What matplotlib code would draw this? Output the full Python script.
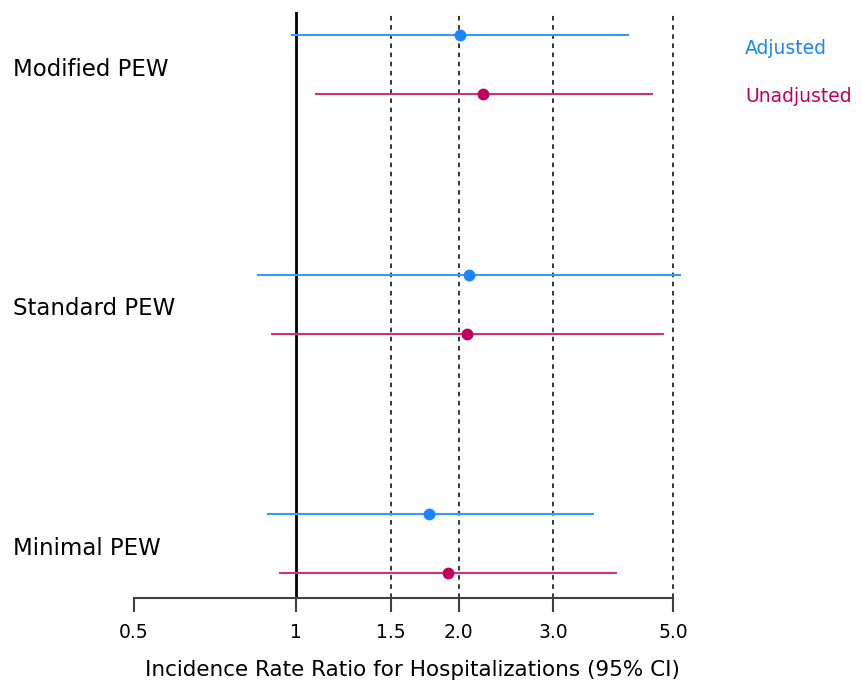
import matplotlib
matplotlib.use("Agg")
import matplotlib.pyplot as plt

plt.rcParams['font.family'] = ['DejaVu Sans']

# data (log scale)
GROUPS = ["Minimal PEW", "Standard PEW", "Modified PEW"]
ADJ_EST = [1.76, 2.09, 2.01]
ADJ_LO = [0.887, 0.85, 0.98]
ADJ_HI = [3.55, 5.15, 4.12]
UNADJ_EST = [1.91, 2.07, 2.22]
UNADJ_LO = [0.934, 0.90, 1.09]
UNADJ_HI = [3.92, 4.79, 4.57]
TICKS = [0.5, 1, 1.5, 2.0, 3.0, 5.0]
TICK_LABELS = ["0.5", "1", "1.5", "2.0", "3.0", "5.0"]
REF_LINES = [1.5, 2.0, 3.0, 5.0]

BLUE_LINE, BLUE_PT = "#3399ff", "#1a85ff"
MAG_LINE, MAG_PT = "#d0327a", "#c0005a"

W, H = 862, 684
fig = plt.figure(figsize=(W / 100, H / 100), dpi=100)
ax = fig.add_axes([134 / W, 1 - 598 / H, (673 - 134) / W, (598 - 12) / H])
ax.set_xscale("log")
ax.set_xlim(0.5, 5.0)
ax.set_ylim(-0.104, 2.342)

for x in REF_LINES:
    ax.axvline(x, color="black", lw=1.1, ls=(0, (3, 3)), zorder=1, clip_on=False)
ax.axvline(1, color="black", lw=2, zorder=1)

for i, name in enumerate(GROUPS):
    ya = i + 0.246
    yu = i
    ax.plot([ADJ_LO[i], ADJ_HI[i]], [ya, ya], color=BLUE_LINE, lw=1.5, clip_on=False, zorder=2)
    ax.plot(ADJ_EST[i], ya, "o", color=BLUE_PT, ms=7.5, clip_on=False, zorder=3)
    ax.plot([UNADJ_LO[i], UNADJ_HI[i]], [yu, yu], color=MAG_LINE, lw=1.5, clip_on=False, zorder=2)
    ax.plot(UNADJ_EST[i], yu, "o", color=MAG_PT, ms=7.5, clip_on=False, zorder=3)
    ax.text((13 - 134) / (673 - 134), i + 0.104, name, transform=ax.get_yaxis_transform(),
            fontsize=16.5, ha="left", va="center")

for s in ["top", "right", "left"]:
    ax.spines[s].set_visible(False)
ax.spines["bottom"].set_color("#404040")
ax.spines["bottom"].set_linewidth(1.5)
ax.set_yticks([])
ax.set_xticks(TICKS)
ax.set_xticklabels(TICK_LABELS)
ax.minorticks_off()
ax.tick_params(axis="x", length=10, width=1.5, color="#404040", labelsize=13.5, pad=8)

fig.text(412 / W, 1 - 670 / H, "Incidence Rate Ratio for Hospitalizations (95% CI)",
         fontsize=15.5, ha="center", va="center")
fig.text(745 / W, 1 - 49 / H, "Adjusted", color=BLUE_PT, fontsize=13.5, va="center")
fig.text(745 / W, 1 - 97 / H, "Unadjusted", color=MAG_PT, fontsize=13.5, va="center")

fig.savefig("out.png", dpi=100)
